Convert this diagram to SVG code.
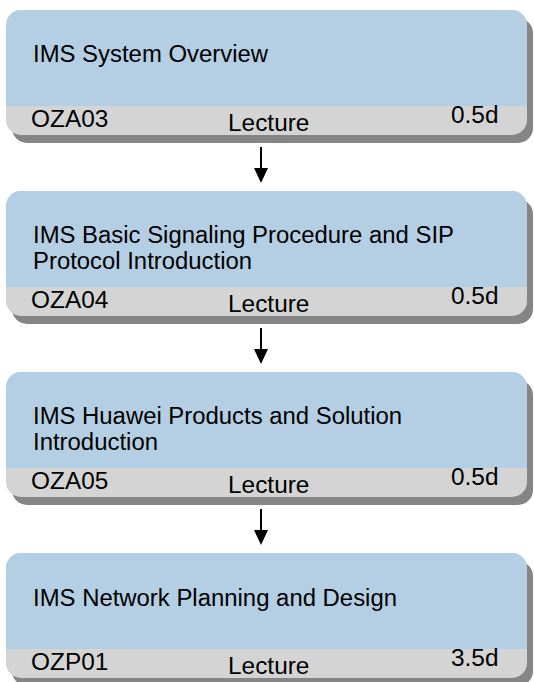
<svg xmlns="http://www.w3.org/2000/svg" width="534" height="682" viewBox="0 0 534 682">
<style>
.shadow{fill:#858585}
.bar{fill:#D4D4D4}
.top{fill:#B4CFE3}
.title{font-family:"Liberation Sans",Arial,sans-serif;font-size:23.5px;fill:#000}
.small{font-family:"Liberation Sans",Arial,sans-serif;font-size:23px;fill:#000}
.conn line{stroke:#000;stroke-width:2}
.conn polygon{fill:#000}
</style>
<defs>
<g id="box">
<rect class="shadow" x="12" y="8" width="521" height="125" rx="15" ry="15"/>
<rect class="bar" x="6" y="0" width="521" height="125" rx="15" ry="15"/>
<path class="top" d="M6,96 V15 A15,15 0 0 1 21,0 H512 A15,15 0 0 1 527,15 V96 Z"/>
</g>
</defs>
<g id="node1" transform="translate(0,10)">
<use href="#box"/>
<text class="title" x="33" y="52" textLength="235" lengthAdjust="spacingAndGlyphs">IMS System Overview</text>
<text class="small" x="31" y="117" textLength="77.3" lengthAdjust="spacingAndGlyphs">OZA03</text>
<text class="small" x="228" y="121" textLength="81.4" lengthAdjust="spacingAndGlyphs">Lecture</text>
<text class="small" x="451" y="113" textLength="47.5" lengthAdjust="spacingAndGlyphs">0.5d</text>
</g>
<g id="node2" transform="translate(0,191)">
<use href="#box"/>
<text class="title" x="33" y="52" textLength="421" lengthAdjust="spacingAndGlyphs">IMS Basic Signaling Procedure and SIP</text>
<text class="title" x="33" y="78" textLength="219" lengthAdjust="spacingAndGlyphs">Protocol Introduction</text>
<text class="small" x="31" y="117" textLength="77.3" lengthAdjust="spacingAndGlyphs">OZA04</text>
<text class="small" x="228" y="121" textLength="81.4" lengthAdjust="spacingAndGlyphs">Lecture</text>
<text class="small" x="451" y="113" textLength="47.5" lengthAdjust="spacingAndGlyphs">0.5d</text>
</g>
<g id="node3" transform="translate(0,372)">
<use href="#box"/>
<text class="title" x="33" y="52" textLength="369" lengthAdjust="spacingAndGlyphs">IMS Huawei Products and Solution</text>
<text class="title" x="33" y="78" textLength="125" lengthAdjust="spacingAndGlyphs">Introduction</text>
<text class="small" x="31" y="117" textLength="77.3" lengthAdjust="spacingAndGlyphs">OZA05</text>
<text class="small" x="228" y="121" textLength="81.4" lengthAdjust="spacingAndGlyphs">Lecture</text>
<text class="small" x="451" y="113" textLength="47.5" lengthAdjust="spacingAndGlyphs">0.5d</text>
</g>
<g id="node4" transform="translate(0,553)">
<use href="#box"/>
<text class="title" x="33" y="53" textLength="364" lengthAdjust="spacingAndGlyphs">IMS Network Planning and Design</text>
<text class="small" x="31" y="117" textLength="77.3" lengthAdjust="spacingAndGlyphs">OZP01</text>
<text class="small" x="228" y="121" textLength="81.4" lengthAdjust="spacingAndGlyphs">Lecture</text>
<text class="small" x="451" y="113" textLength="47.5" lengthAdjust="spacingAndGlyphs">3.5d</text>
</g>
<g id="connectors" class="conn">
<line x1="261" y1="147" x2="261" y2="170"/>
<polygon points="254,168 268,168 261,183"/>
<line x1="261" y1="328" x2="261" y2="351"/>
<polygon points="254,349 268,349 261,364"/>
<line x1="261" y1="509" x2="261" y2="532"/>
<polygon points="254,530 268,530 261,545"/>
</g>
</svg>
